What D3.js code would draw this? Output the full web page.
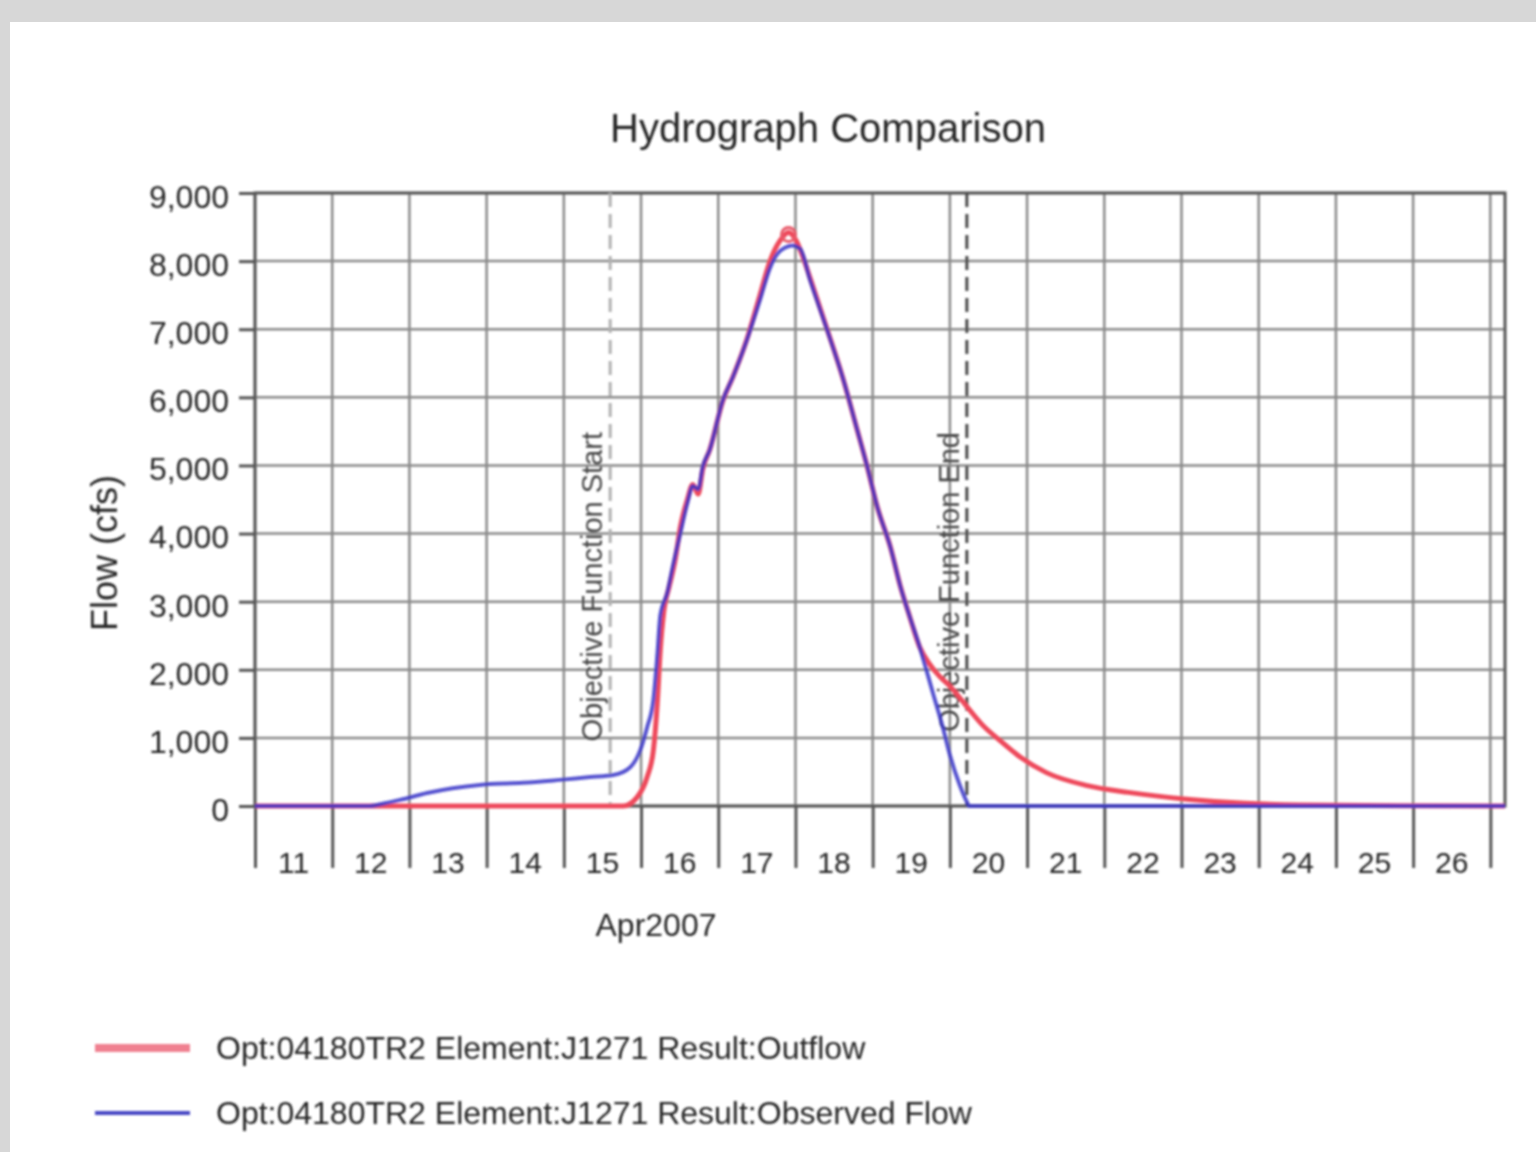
<!DOCTYPE html>
<html>
<head>
<meta charset="utf-8">
<script src="https://cdn.jsdelivr.net/npm/d3@7"></script>
<style>
  html, body { margin: 0; padding: 0; background: #ffffff; }
  svg { display: block; }
</style>
</head>
<body>
<svg id="chart" width="1536" height="1152"></svg>
<script>
// ---------------- DATA ----------------
const chartTitle = "Hydrograph Comparison";
const yAxisTitle = "Flow (cfs)";
const xAxisTitle = "Apr2007";

const yTickValues = [0, 1000, 2000, 3000, 4000, 5000, 6000, 7000, 8000, 9000];
const dayLabels = [11, 12, 13, 14, 15, 16, 17, 18, 19, 20, 21, 22, 23, 24, 25, 26];

// time expressed as fractional day of April 2007 (11.5 = Apr 11, 12:00)
const outflowDays = [11.00, 12.00, 13.00, 14.00, 15.00, 15.77, 15.95, 16.08, 16.16, 16.21, 16.25, 16.30, 16.36, 16.44, 16.51, 16.60, 16.67, 16.74, 16.80, 16.89, 17.06, 17.19, 17.37, 17.54, 17.67, 17.80, 17.91, 18.01, 18.10, 18.19, 18.41, 18.62, 18.80, 18.93, 19.06, 19.23, 19.36, 19.48, 19.61, 19.74, 19.87, 20.00, 20.22, 20.43, 20.65, 20.91, 21.25, 21.78, 22.31, 23.07, 23.82, 24.54, 25.83, 27.19];
const outflowCfs  = [0, 0, 0, 0, 0, 0, 130, 430, 820, 1500, 2300, 2900, 3200, 3600, 4100, 4500, 4720, 4580, 4950, 5230, 5950, 6300, 6850, 7500, 8000, 8300, 8420, 8300, 8050, 7750, 7000, 6260, 5520, 4980, 4390, 3800, 3220, 2780, 2330, 2080, 1900, 1760, 1460, 1180, 960, 720, 490, 300, 200, 100, 40, 15, 5, 0];

const observedDays = [11.00, 12.49, 12.68, 12.88, 13.23, 13.56, 13.91, 14.47, 14.91, 15.34, 15.64, 15.86, 15.99, 16.08, 16.16, 16.21, 16.25, 16.34, 16.41, 16.51, 16.60, 16.67, 16.74, 16.80, 16.89, 17.06, 17.19, 17.37, 17.54, 17.67, 17.76, 17.87, 17.96, 18.06, 18.19, 18.41, 18.62, 18.80, 18.93, 19.06, 19.23, 19.36, 19.48, 19.61, 19.78, 19.91, 20.00, 20.13, 20.22, 20.25, 27.19];
const observedCfs  = [0, 0, 40, 90, 190, 260, 310, 340, 380, 425, 455, 570, 820, 1160, 1560, 2200, 2800, 3130, 3510, 4010, 4450, 4700, 4650, 4980, 5230, 5960, 6300, 6840, 7430, 7900, 8100, 8200, 8230, 8180, 7720, 6990, 6260, 5520, 4980, 4390, 3800, 3220, 2780, 2330, 1660, 1150, 750, 300, 60, 0, 0];

const markerDays   = [15.60, 20.22];
const markerLabels = ["Objective Function Start", "Objective Function End"];

const seriesNames = [
  "Opt:04180TR2 Element:J1271 Result:Outflow",
  "Opt:04180TR2 Element:J1271 Result:Observed Flow"
];

// ---------------- LAYOUT ----------------
const W = 1536, H = 1152;
const plot = { left: 255, right: 1505, top: 193, bottom: 806 };
const domainStartDay = 11, domainEndDay = 27.19;
const font = "'Liberation Sans', Arial, sans-serif";
const ink = "#262626";

const dayToDate = d => new Date(Date.UTC(2007, 3, 1) + (d - 1) * 864e5);

const svg = d3.select("#chart");

// blur filter to mimic the soft reference
const defs = svg.append("defs");
defs.append("filter").attr("id", "soft")
  .attr("x", "-5%").attr("y", "-5%").attr("width", "110%").attr("height", "110%")
  .append("feGaussianBlur").attr("stdDeviation", 1.1);

// outer grey frame + white panel
svg.append("rect").attr("x", 0).attr("y", 0).attr("width", W).attr("height", H).attr("fill", "#d7d7d7");
svg.append("rect").attr("x", 10).attr("y", 22).attr("width", W - 10).attr("height", H - 22).attr("fill", "#ffffff");

const g = svg.append("g").attr("filter", "url(#soft)");

const x = d3.scaleUtc()
  .domain([dayToDate(domainStartDay), dayToDate(domainEndDay)])
  .range([plot.left, plot.right]);
const y = d3.scaleLinear()
  .domain([0, 9000])
  .range([plot.bottom, plot.top]);

const midnights = d3.utcDay.range(dayToDate(11), dayToDate(domainEndDay));

// grid
g.append("g").selectAll("line.hg").data(yTickValues).join("line")
  .attr("x1", plot.left).attr("x2", plot.right)
  .attr("y1", d => y(d)).attr("y2", d => y(d))
  .attr("stroke", "#8a8a8a").attr("stroke-width", 2.5);
g.append("g").selectAll("line.vg").data(midnights).join("line")
  .attr("x1", d => x(d)).attr("x2", d => x(d))
  .attr("y1", plot.top).attr("y2", plot.bottom)
  .attr("stroke", "#8a8a8a").attr("stroke-width", 2.5);

// y axis
const yAxis = d3.axisLeft(y).tickValues(yTickValues).tickSize(16).tickPadding(10)
  .tickFormat(d3.format(","));
const ya = g.append("g").attr("transform", `translate(${plot.left},0)`).call(yAxis);
ya.select(".domain").remove();
ya.selectAll(".tick line").attr("stroke", "#555").attr("stroke-width", 3);
ya.selectAll(".tick text").attr("font-family", font).attr("font-size", 32)
  .attr("fill", ink).attr("dy", "0.45em");

// x axis: long ticks at midnight, labels at noon
const xAxis = d3.axisBottom(x).tickValues(midnights).tickSize(62).tickFormat("");
const xa = g.append("g").attr("transform", `translate(0,${plot.bottom})`).call(xAxis);
xa.select(".domain").remove();
xa.selectAll(".tick line").attr("stroke", "#555").attr("stroke-width", 3);

g.append("g").selectAll("text.day").data(dayLabels).join("text")
  .attr("x", d => x(dayToDate(d + 0.5)))
  .attr("y", plot.bottom + 67)
  .attr("text-anchor", "middle")
  .attr("font-family", font).attr("font-size", 30).attr("fill", ink)
  .text(d => d);

// plot border
g.append("rect")
  .attr("x", plot.left).attr("y", plot.top)
  .attr("width", plot.right - plot.left).attr("height", plot.bottom - plot.top)
  .attr("fill", "none").attr("stroke", "#555").attr("stroke-width", 3);

// objective function markers
const markerColors = ["#b0b0b0", "#4a4a4a"];
g.append("g").selectAll("line.mk").data(markerDays).join("line")
  .attr("x1", d => x(dayToDate(d))).attr("x2", d => x(dayToDate(d)))
  .attr("y1", plot.top).attr("y2", plot.bottom)
  .attr("stroke", (d, i) => markerColors[i]).attr("stroke-width", 3)
  .attr("stroke-dasharray", "14,7");
g.append("g").selectAll("text.mk").data(markerDays).join("text")
  .attr("transform", d => `translate(${x(dayToDate(d)) - 8},432) rotate(-90)`)
  .attr("text-anchor", "end")
  .attr("font-family", font).attr("font-size", 29)
  .attr("fill", "#444")
  .text((d, i) => markerLabels[i]);

// series
const line = d3.line().curve(d3.curveMonotoneX)
  .x(d => x(dayToDate(d[0]))).y(d => y(d[1]));
const outflow = outflowDays.map((d, i) => [d, outflowCfs[i]]);
const observed = observedDays.map((d, i) => [d, observedCfs[i]]);

g.append("path").datum(outflow).attr("d", line)
  .attr("fill", "none").attr("stroke", "#ee4a5c").attr("stroke-width", 5)
  .attr("stroke-linejoin", "round");
g.append("path").datum(observed).attr("d", line)
  .attr("fill", "none").attr("stroke", "#3a36c8").attr("stroke-width", 4)
  .attr("stroke-opacity", 0.85).attr("stroke-linejoin", "round");

// peak marker on the outflow series
const peak = outflow.reduce((a, b) => (b[1] > a[1] ? b : a));
g.append("circle")
  .attr("cx", x(dayToDate(peak[0]))).attr("cy", y(peak[1]) + 2)
  .attr("r", 7).attr("fill", "none").attr("stroke", "#e85a6a").attr("stroke-width", 3);

// titles
g.append("text").attr("x", 828).attr("y", 142).attr("text-anchor", "middle")
  .attr("font-family", font).attr("font-size", 40).attr("fill", ink).text(chartTitle);
g.append("text").attr("transform", "translate(117,553) rotate(-90)").attr("text-anchor", "middle")
  .attr("font-family", font).attr("font-size", 36).attr("fill", ink).text(yAxisTitle);
g.append("text").attr("x", 656).attr("y", 936).attr("text-anchor", "middle")
  .attr("font-family", font).attr("font-size", 32).attr("fill", ink).text(xAxisTitle);

// legend
const legendColors = ["#f08090", "#4646c4"];
const legendWidths = [8, 4];
const legendY = [1048, 1113];
const lg = g.append("g");
lg.selectAll("line").data(seriesNames).join("line")
  .attr("x1", 95).attr("x2", 190)
  .attr("y1", (d, i) => legendY[i]).attr("y2", (d, i) => legendY[i])
  .attr("stroke", (d, i) => legendColors[i]).attr("stroke-width", (d, i) => legendWidths[i]);
lg.selectAll("text").data(seriesNames).join("text")
  .attr("x", 216).attr("y", (d, i) => legendY[i] + 11)
  .attr("font-family", font).attr("font-size", 32).attr("fill", ink)
  .text(d => d);
</script>
</body>
</html>
